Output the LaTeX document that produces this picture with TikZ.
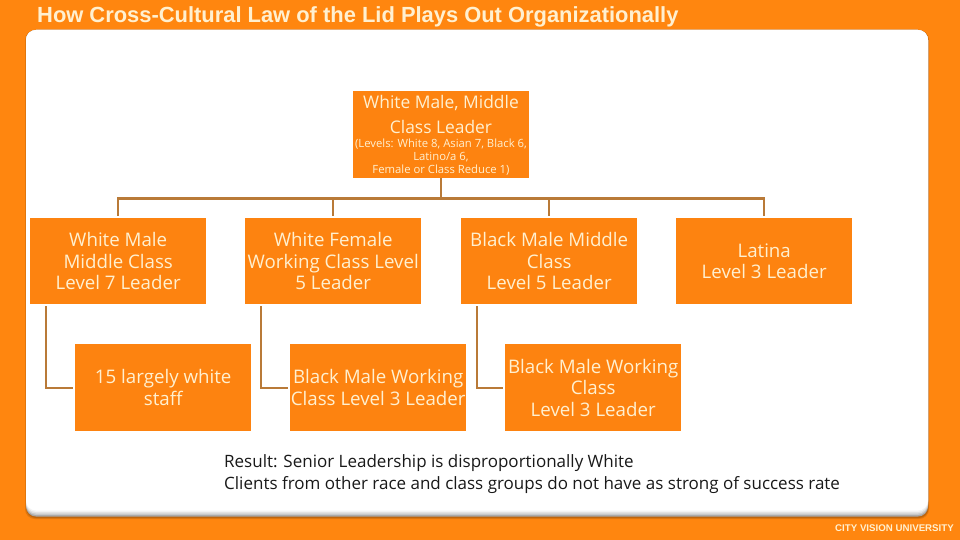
\documentclass[tikz,border=0pt]{standalone}
\usepackage{fontspec}
\setmainfont{Open Sans}
\newfontfamily\titlefont{Liberation Sans}
\definecolor{bgor}{HTML}{FF860F}
\definecolor{boxor}{HTML}{FD8310}
\definecolor{cream}{HTML}{FFF0D0}
\definecolor{conn}{HTML}{B97A38}
\tikzset{
 orgbox/.style={fill=boxor,text=cream,minimum width=176pt,align=center,inner sep=0pt,anchor=north west,font=\fontsize{18.7}{21.7}\selectfont},
 link/.style={draw=conn,line width=2.4pt,shorten >=2pt},
 sublink/.style={draw=conn,line width=2.4pt,shorten >=2pt,shorten <=2pt},
}
\begin{document}
\begin{tikzpicture}[x=1pt,y=-1pt]
\useasboundingbox (0,0) rectangle (960,540);
\fill[bgor] (0,0) rectangle (960,540);
\fill[black!12!bgor,rounded corners=10pt] (25,30) rectangle (929,519);
\fill[black!25!bgor,rounded corners=10pt] (26,30) rectangle (928.5,518);
\fill[black!35,rounded corners=10pt] (26,30) rectangle (928,516.5);
\fill[black!22,rounded corners=10pt] (26,30) rectangle (928,515);
\fill[black!12,rounded corners=10pt] (26,30) rectangle (928,513.5);
\fill[black!5,rounded corners=10pt] (26,30) rectangle (928,512);
\fill[white,rounded corners=10pt] (26,30) rectangle (928,510.5);
\node[anchor=west,inner sep=0pt,text=cream,font=\titlefont\bfseries\fontsize{21.9}{24}\selectfont] (title) at (37,17) {How Cross-Cultural Law of the Lid Plays Out Organizationally};
\node[orgbox,minimum height=87pt] (root) at (353,91) {};
\node[text=cream,align=center,inner sep=0pt,font=\fontsize{17.4}{25}\selectfont] (roottext) at (441,114) {White Male, Middle\\Class Leader};
\node[text=cream,align=center,inner sep=0pt,font=\fontsize{11.3}{13}\selectfont] (rootsub) at (441,157) {(Levels: White 8, Asian 7, Black 6,\\Latino/a 6,\\Female or Class Reduce 1)};
\node[orgbox,minimum height=86pt] (c1) at (30,218) {White Male\\Middle Class\\Level 7 Leader};
\node[orgbox,minimum height=86pt] (c2) at (245,218) {White Female\\Working Class Level\\5 Leader};
\node[orgbox,minimum height=86pt] (c3) at (461,218) {Black Male Middle\\Class\\Level 5 Leader};
\node[orgbox,minimum height=86pt] (c4) at (676,218) {Latina\\Level 3 Leader};
\node[orgbox,minimum height=87pt] (g1) at (75,344) {15 largely white\\staff};
\node[orgbox,minimum height=87pt] (g2) at (290,344) {Black Male Working\\Class Level 3 Leader};
\node[orgbox,minimum height=87pt] (g3) at (505,344) {Black Male Working\\Class\\Level 3 Leader};
\foreach \c in {c1,c2,c3,c4}{
  \draw[link] (root.south) -- ++(0,20) -| (\c.north);
}
\foreach \p/\g in {c1/g1,c2/g2,c3/g3}{
  \draw[sublink] ([xshift=16pt]\p.south west) |- (\g.west);
}
\node[anchor=north west,inner sep=0pt,align=left,text=black!90,font=\fontsize{17}{22}\selectfont] (result) at (224,454.5) {Result: Senior Leadership is disproportionally White\\Clients from other race and class groups do not have as strong of success rate};
\node[anchor=east,inner sep=0pt,text=cream,font=\titlefont\bfseries\fontsize{9.7}{12}\selectfont] (brand) at (954,528) {CITY VISION UNIVERSITY};
\end{tikzpicture}
\end{document}
